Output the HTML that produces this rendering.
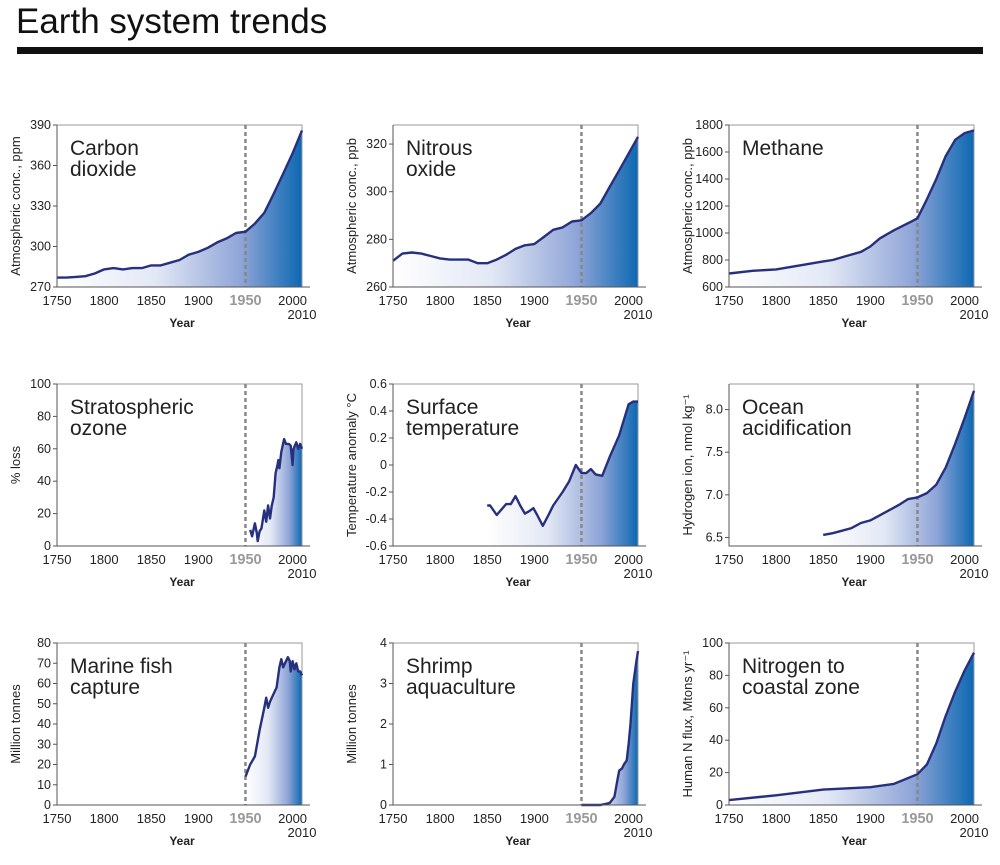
<!DOCTYPE html>
<html><head><meta charset="utf-8"><style>
body{margin:0;background:#fff;width:1000px;height:860px;overflow:hidden;font-family:"Liberation Sans",sans-serif}
</style></head><body>
<svg id="s" width="1000" height="860" xmlns="http://www.w3.org/2000/svg">
<defs>
<linearGradient id="g" x1="0" x2="1" y1="0" y2="0">
<stop offset="0" stop-color="#ffffff"/><stop offset="0.4" stop-color="#e3e8f5"/><stop offset="0.75" stop-color="#8fa5d7"/><stop offset="1" stop-color="#0d68b2"/>
</linearGradient>
</defs>
<text x="16" y="33" font-size="35" fill="#111">Earth system trends</text>
<rect x="17" y="47" width="966" height="7" fill="#111"/>
</svg>
<script>
const titles=[["Carbon","dioxide"],["Nitrous","oxide"],["Methane"],["Stratospheric","ozone"],["Surface","temperature"],["Ocean","acidification"],["Marine fish","capture"],["Shrimp","aquaculture"],["Nitrogen to","coastal zone"]];
const yTitles=["Atmospheric conc., ppm","Atmospheric conc., ppb","Atmospheric conc., ppb","% loss","Temperature anomaly °C","Hydrogen ion, nmol kg⁻¹","Million tonnes","Million tonnes","Human N flux, Mtons yr⁻¹"];
const yMin=[270,260,600,0,-0.6,6.4,0,0,0];
const yMax=[390,328,1800,100,0.6,8.3,80,4,100];
const yTicks=[[270,300,330,360,390],[260,280,300,320],[600,800,1000,1200,1400,1600,1800],[0,20,40,60,80,100],[-0.6,-0.4,-0.2,0,0.2,0.4,0.6],[6.5,7.0,7.5,8.0],[0,10,20,30,40,50,60,70,80],[0,1,2,3,4],[0,20,40,60,80,100]];
const yTickLabels=[["270","300","330","360","390"],["260","280","300","320"],["600","800","1000","1200","1400","1600","1800"],["0","20","40","60","80","100"],["-0.6","-0.4","-0.2","0","0.2","0.4","0.6"],["6.5","7.0","7.5","8.0"],["0","10","20","30","40","50","60","70","80"],["0","1","2","3","4"],["0","20","40","60","80","100"]];
const xTicks=[1750,1800,1850,1900,1950,2000];
const co2Years=[1750,1760,1770,1780,1790,1800,1810,1820,1830,1840,1850,1860,1870,1880,1890,1900,1910,1920,1930,1940,1950,1960,1970,1980,1990,2000,2010];
const co2Values=[277,277,277.5,278,280,283,284,283,284,284,286,286,288,290,294,296,299,303,306,310,311,317,325,339,354,369,386];
const n2oYears=[1750,1760,1770,1780,1790,1800,1810,1820,1830,1840,1850,1860,1870,1880,1890,1900,1910,1920,1930,1940,1950,1960,1970,1980,1990,2000,2010];
const n2oValues=[271,274,274.5,274,273,272,271.5,271.5,271.5,270,270,271.5,273.5,276,277.5,278,281,284,285,287.5,288,291,295,302,309,316,323];
const ch4Years=[1750,1775,1800,1825,1850,1860,1875,1890,1900,1910,1925,1945,1950,1960,1970,1980,1990,2000,2010];
const ch4Values=[700,720,730,760,790,800,830,860,900,960,1020,1090,1110,1250,1400,1570,1690,1740,1760];
const o3Years=[1955,1957,1960,1962,1963,1965,1967,1970,1972,1974,1976,1978,1980,1982,1984,1985,1986,1988,1991,1993,1996,1998,2000,2001,2004,2006,2008,2010];
const o3Values=[10,6,14,8,3,9,11,22,15,25,17,25,30,45,50,53,48,58,66,63,63,62,50,60,64,60,63,60];
const tempYears=[1850,1853,1860,1865,1870,1875,1880,1885,1890,1895,1899,1903,1909,1915,1920,1930,1937,1944,1950,1955,1960,1965,1972,1980,1990,2000,2005,2010];
const tempValues=[-0.3,-0.3,-0.37,-0.33,-0.29,-0.29,-0.23,-0.3,-0.36,-0.34,-0.32,-0.37,-0.45,-0.37,-0.3,-0.2,-0.12,0,-0.06,-0.06,-0.03,-0.07,-0.08,0.06,0.22,0.45,0.47,0.47];
const oceanYears=[1850,1860,1870,1880,1890,1900,1910,1920,1930,1940,1950,1960,1970,1980,1990,2000,2010];
const oceanValues=[6.53,6.55,6.58,6.61,6.67,6.7,6.76,6.82,6.88,6.95,6.97,7.02,7.12,7.32,7.6,7.9,8.22];
const fishYears=[1950,1955,1960,1965,1970,1972,1974,1976,1978,1980,1983,1986,1988,1990,1992,1995,1997,1998,2000,2002,2004,2006,2008,2010];
const fishValues=[14,20,24,37,48,53,48,51,53,55,58,68,72,68,70,73,71,66,71,67,70,66,66,64];
const shrimpYears=[1950,1970,1980,1985,1988,1990,1993,1995,1998,2000,2002,2005,2008,2010];
const shrimpValues=[0,0,0.05,0.2,0.6,0.85,0.9,1.0,1.1,1.5,2.0,3.0,3.5,3.8];
const nYears=[1750,1800,1850,1900,1925,1950,1960,1970,1980,1990,2000,2010];
const nValues=[3,6,9.5,11,13,19,25,38,55,70,83,94];
const allYears=[co2Years,n2oYears,ch4Years,o3Years,tempYears,oceanYears,fishYears,shrimpYears,nYears];
const allValues=[co2Values,n2oValues,ch4Values,o3Values,tempValues,oceanValues,fishValues,shrimpValues,nValues];
const NS="http://www.w3.org/2000/svg";
const svg=document.getElementById('s');
function mk(tag,attrs,parent,text){const e=document.createElementNS(NS,tag);for(const k in attrs)e.setAttribute(k,attrs[k]);if(text!==undefined)e.textContent=text;(parent||svg).appendChild(e);return e;}
for(let i=0;i<9;i++){
  const col=i%3,row=Math.floor(i/3);
  const x0=57+col*336,x1=x0+245,yb=287+row*259,yt=yb-162;
  const X=yr=>x0+(yr-1750)*(x1-x0)/260;
  const Y=v=>yb-(v-yMin[i])*(yb-yt)/(yMax[i]-yMin[i]);
  const g=mk('g',{});
  
  
  const ys=allYears[i],vs=allValues[i];
  let d='M'+X(ys[0])+','+yb;
  ys.forEach((y,k)=>{d+=' L'+X(y).toFixed(1)+','+Y(vs[k]).toFixed(1);});
  d+=' L'+X(ys[ys.length-1])+','+yb+' Z';
  const area=mk('path',{d:d,fill:'url(#g)'},g);
  
  
  const frame=mk('path',{d:`M${x0},${yt} H${x1} V${yb}`,fill:'none',stroke:'#999','stroke-width':1},g);
  
  
  const dash=mk('line',{x1:X(1950),x2:X(1950),y1:yt,y2:yb,stroke:'#888','stroke-width':2.5,'stroke-dasharray':'4,3'},g);
  
  
  const ln=mk('polyline',{points:ys.map((y,k)=>X(y).toFixed(1)+','+Y(vs[k]).toFixed(1)).join(' '),fill:'none',stroke:'#27307e','stroke-width':2.4,'stroke-linejoin':'round'},g);
  
  
  const ax=mk('path',{d:`M${x0},${yt} V${yb} H${x1+8}`,fill:'none',stroke:'#555','stroke-width':1},g);
  
  
  yTicks[i].forEach((t,k)=>{
    mk('line',{x1:x0-4,x2:x0,y1:Y(t),y2:Y(t),stroke:'#555'},g);
    const tl=mk('text',{x:x0-6,y:Y(t)+4,'font-size':12.5,'text-anchor':'end',fill:'#222'},g,yTickLabels[i][k]);
    
    
  });
  xTicks.forEach(t=>{
    const is50=t===1950;
    const tl=mk('text',{x:X(t),y:yb+18,'font-size':is50?14.5:13,'font-weight':is50?'bold':'normal','text-anchor':'middle',fill:is50?'#999':'#222'},g,String(t));
    
    
  });
  const t10=mk('text',{x:x1,y:yb+32,'font-size':13,'text-anchor':'middle',fill:'#222'},g,'2010');
  
  
  const xt=mk('text',{x:x0+125,y:yb+40,'font-size':12,'font-weight':'bold','text-anchor':'middle',fill:'#222'},g,'Year');
  
  
  const yt2=mk('text',{transform:`translate(${x0-37},${(yt+yb)/2}) rotate(-90)`,'font-size':13,'text-anchor':'middle',fill:'#222'},g,yTitles[i]);
  
  
  titles[i].forEach((s,k)=>{
    const pt=mk('text',{x:x0+13,y:yt+30+k*21,'font-size':21,fill:'#222'},g,s);
    
    
  });
}
</script>
</body></html>
